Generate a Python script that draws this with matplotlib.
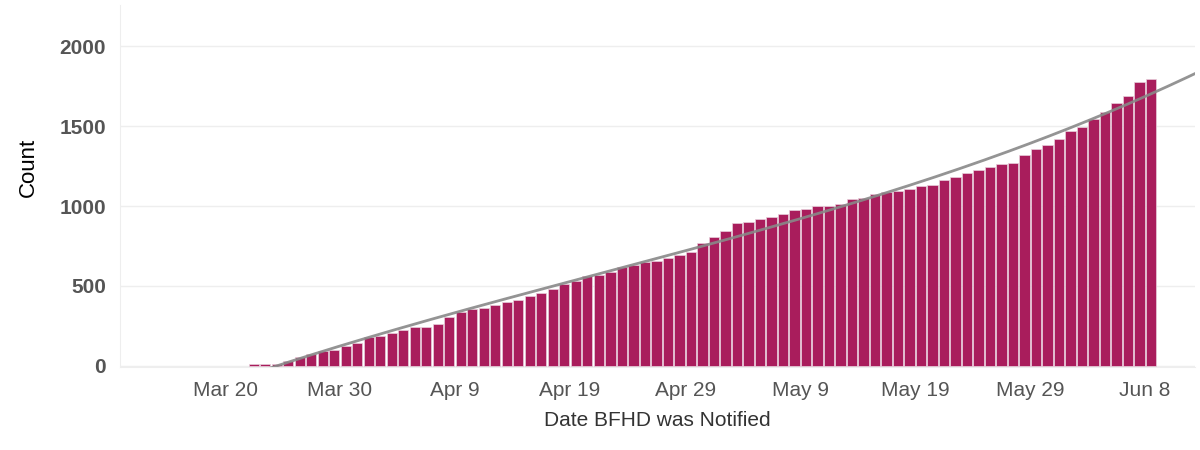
import datetime as dt
import numpy as np
import matplotlib.pyplot as plt
import matplotlib.dates as mdates

plt.rcParams['font.family'] = ['Liberation Sans', 'DejaVu Sans']

start = dt.date(2020, 3, 22)
counts = [15, 15, 15, 30, 58, 75, 94, 102, 123, 142, 179, 188, 206, 225, 244,
          244, 262, 308, 335, 354, 365, 381, 402, 410, 437, 456, 483, 510, 529,
          564, 569, 585, 621, 631, 648, 658, 677, 696, 715, 767, 808, 846, 892,
          902, 919, 929, 948, 977, 983, 1002, 1002, 1012, 1042, 1048, 1077,
          1085, 1096, 1104, 1123, 1133, 1160, 1181, 1206, 1227, 1244, 1262,
          1271, 1319, 1356, 1383, 1421, 1469, 1496, 1542, 1590, 1646, 1690,
          1773, 1792]
dates = [start + dt.timedelta(days=i) for i in range(len(counts))]
tick_dates = [dt.date(2020, 3, 20) + dt.timedelta(days=10 * i) for i in range(9)]

x = mdates.date2num(dates) + 0.5  # bars centred on the day
fig = plt.figure(figsize=(12, 4.5), dpi=100)
ax = fig.add_axes([0.1, 0.184, 0.896, 0.806])
ax.bar(x, counts, width=0.9, color='#a91d5c', edgecolor='#e8d0dc', linewidth=0.5, zorder=2)

# trend line
coef = np.polyfit(x - x[0], counts, 3)
xl = np.linspace(mdates.date2num(dt.date(2020, 3, 19)), mdates.date2num(dt.date(2020, 6, 13)), 200)
yl = np.polyval(coef, xl - x[0])
ax.plot(xl, yl, color='#888888', lw=2, alpha=0.9, zorder=3)

t0 = mdates.date2num(dt.date(2020, 3, 20))
ax.set_xlim(t0 - 9.13, t0 + 84.35)
ax.set_ylim(-8, 2260)
ax.set_yticks([0, 500, 1000, 1500, 2000])
ax.set_xticks(mdates.date2num(tick_dates))
ax.set_xticklabels([d.strftime('%b %-d') for d in tick_dates], fontsize=15, color='#555555')
for lab in ax.get_yticklabels():
    lab.set_fontsize(15)
    lab.set_fontweight('bold')
    lab.set_color('#555555')
ax.grid(axis='y', color='#eeeeee', lw=1, zorder=0)
for s in ['top', 'right']:
    ax.spines[s].set_visible(False)
ax.spines['left'].set_color('#eeeeee')
ax.spines['bottom'].set_color('#eeeeee')
ax.tick_params(length=0, pad=10)
ax.set_ylabel('Count', fontsize=16)
ax.yaxis.set_label_coords(-0.075, 0.55)
ax.set_xlabel('Date BFHD was Notified', fontsize=15, color='#333333', labelpad=8)
fig.savefig('out.png')
